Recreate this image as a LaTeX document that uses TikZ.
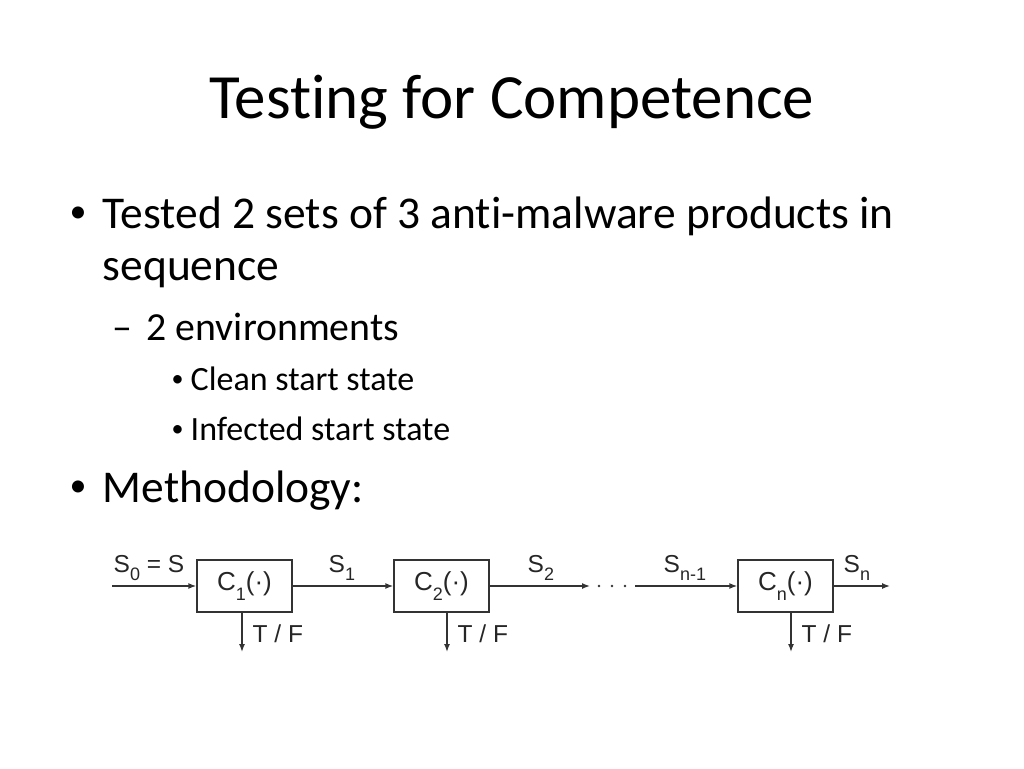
\documentclass[tikz,border=0pt]{standalone}
\usepackage{fontspec}
\setmainfont{Carlito}[Ligatures={NoCommon}]
\newfontfamily\arialfont{Liberation Sans}
\usetikzlibrary{arrows.meta}

\newcommand{\idx}[1]{\raisebox{-0.36em}{\fontsize{18}{18}\selectfont #1}}

\begin{document}
\begin{tikzpicture}[x=1pt,y=-1pt,
  line width=1.4pt,
  box/.style={shape=rectangle,draw=black!80,minimum width=95pt,minimum height=52pt,inner sep=0pt,
    font=\arialfont\fontsize{26}{26}\selectfont,text=black!85},
  lbl/.style={anchor=base west,inner sep=0pt,font=\arialfont\fontsize{24.5}{24.5}\selectfont,text=black!85},
  flow/.style={draw=black!80,-{Latex[length=8pt,width=6pt]}},
  dot/.style={anchor=base west,inner sep=0pt},
  lvlone/.style={anchor=base west,inner sep=0pt,font=\fontsize{45.5}{45.5}\selectfont},
  lvltwo/.style={anchor=base west,inner sep=0pt,font=\fontsize{39.8}{39.8}\selectfont},
  lvlthree/.style={anchor=base west,inner sep=0pt,font=\fontsize{34}{34}\selectfont}]
\useasboundingbox (0,0) rectangle (1024,768);

% title and bullets
\node (title) [anchor=base,inner sep=0pt,font=\fontsize{63}{63}\selectfont] at (512,118) {Testing for Competence};
\node (b1) [dot,font=\fontsize{34}{34}\selectfont] at (69,222) {•};
\node (t1) [lvlone] at (102,228) {Tested 2 sets of 3 anti-malware products in};
\node (t1b) [lvlone] at (102,280) {sequence};
\node (b2) [lvltwo] at (112,340) {–};
\node (t2) [lvltwo] at (146,340) {2 environments};
\node (b3) [dot,font=\fontsize{24}{24}\selectfont] at (171,386) {•};
\node (t3) [lvlthree] at (190,390) {Clean start state};
\node (b4) [dot,font=\fontsize{24}{24}\selectfont] at (171,436) {•};
\node (t4) [lvlthree] at (190,440) {Infected start state};
\node (b5) [dot,font=\fontsize{34}{34}\selectfont] at (69,496) {•};
\node (t5) [lvlone] at (102,502) {Methodology:};

% chain of checks
\path (244.5,586) node (c1) [box] {C\idx{1}(·)};
\path (441.5,586) node (c2) [box] {C\idx{2}(·)};
\path (785.5,586) node (cn) [box] {C\idx{n}(·)};

\coordinate (in) at (112,586);
\coordinate (dotsl) at (590,586);
\coordinate (dotsr) at (635,586);
\coordinate (out) at (890,586);
\coordinate (tf1) at (242,652);
\coordinate (tf2) at (447,652);
\coordinate (tfn) at (791,652);

\draw [flow] (in) to (c1);
\draw [flow] (c1) to (c2);
\draw [flow] (c2) to (dotsl);
\draw [flow] (dotsr) to (cn);
\draw [flow] (cn) to (out);
\draw [flow] (c1.south -| tf1) to (tf1);
\draw [flow] (c2.south -| tf2) to (tf2);
\draw [flow] (cn.south -| tfn) to (tfn);
\foreach \x in {599,612,625} \fill [black!80] (\x,586) circle (1.3pt);

\node (s0) [lbl] at (113,572) {S\idx{0} = S};
\node (s1) [lbl] at (328,572) {S\idx{1}};
\node (s2) [lbl] at (527,572) {S\idx{2}};
\node (snm) [lbl] at (663,572) {S\idx{n-1}};
\node (sn) [lbl] at (843,572) {S\idx{n}};
\node (r1) [lbl] at (252,642) {T / F};
\node (r2) [lbl] at (457,642) {T / F};
\node (rn) [lbl] at (801,642) {T / F};
\end{tikzpicture}
\end{document}
